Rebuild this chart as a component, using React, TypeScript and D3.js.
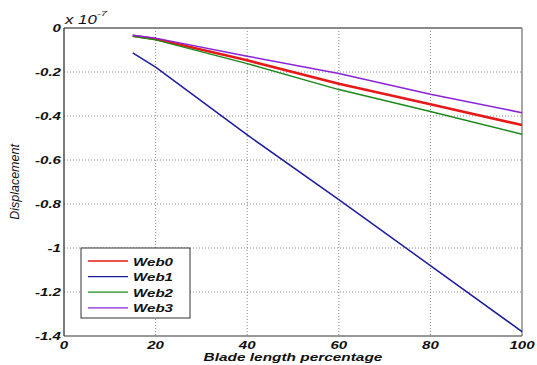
import React from "react";
import * as d3 from "d3";

// blade length (%) at which the displacement was sampled
const bladeLength = [15, 20, 40, 60, 80, 100];

// displacement, in units of 1e-7
const web0 = [-0.035, -0.05, -0.147, -0.253, -0.347, -0.441];
const web1 = [-0.113, -0.178, -0.486, -0.78, -1.08, -1.38];
const web2 = [-0.038, -0.054, -0.162, -0.28, -0.38, -0.483];
const web3 = [-0.033, -0.046, -0.128, -0.207, -0.301, -0.385];

const seriesNames = ["Web0", "Web1", "Web2", "Web3"];
const seriesValues = [web0, web1, web2, web3];
const seriesColors = ["#e61919", "#1c1ca0", "#1b8a1b", "#8a22d8"];
const seriesWidths = [2.6, 1.5, 1.5, 1.5];

const xTicks = [0, 20, 40, 60, 80, 100];
const yTicks = [0, -0.2, -0.4, -0.6, -0.8, -1, -1.2, -1.4];

const W = 537;
const H = 365;
const margin = { top: 28, right: 15, bottom: 29, left: 64 };
const FONT = "'Liberation Sans', Arial, sans-serif";
const SX = 1.4; // labels in the reference are stretched sideways

function Label({ x, y, anchor, size, children, bold = true }: any) {
  return (
    <g transform={`translate(${x},${y}) scale(${SX},1)`}>
      <text
        textAnchor={anchor}
        fontFamily={FONT}
        fontSize={size}
        fontWeight={bold ? "bold" : "normal"}
        fontStyle="italic"
        fill="#111"
      >
        {children}
      </text>
    </g>
  );
}

export default function App() {
  const x = d3
    .scaleLinear()
    .domain([0, 100])
    .range([margin.left, W - margin.right]);
  const y = d3
    .scaleLinear()
    .domain([-1.4, 0])
    .range([H - margin.bottom, margin.top]);

  const line = d3
    .line<number>()
    .x((_, i) => x(bladeLength[i]))
    .y((d) => y(d));

  const [x0, x1] = x.range();
  const [y0, y1] = y.range();

  return (
    <svg
      width={W}
      height={H}
      style={{ position: "absolute", left: 0, top: 0, background: "#fff" }}
    >
      {/* grid */}
      {xTicks.slice(1, -1).map((t) => (
        <line
          key={"gx" + t}
          x1={x(t)}
          x2={x(t)}
          y1={y1}
          y2={y0}
          stroke="#888"
          strokeWidth={1}
          strokeDasharray="1,2"
        />
      ))}
      {yTicks.slice(1, -1).map((t) => (
        <line
          key={"gy" + t}
          x1={x0}
          x2={x1}
          y1={y(t)}
          y2={y(t)}
          stroke="#888"
          strokeWidth={1}
          strokeDasharray="1,2"
        />
      ))}

      {/* box */}
      <line x1={x0} x2={x1} y1={y1} y2={y1} stroke="#8a8a8a" strokeWidth={2} />
      <line x1={x1} x2={x1} y1={y1} y2={y0} stroke="#8a8a8a" strokeWidth={1.5} />
      <line x1={x0} x2={x1} y1={y0} y2={y0} stroke="#333" strokeWidth={1.2} />
      <line x1={x0} x2={x0} y1={y1} y2={y0} stroke="#222" strokeWidth={1.2} />

      {/* series */}
      {seriesValues.map((vals, i) => (
        <path
          key={seriesNames[i]}
          d={line(vals) || ""}
          fill="none"
          stroke={seriesColors[i]}
          strokeWidth={seriesWidths[i]}
        />
      ))}

      {/* tick labels */}
      {yTicks.map((t) => (
        <Label key={"ly" + t} x={x0 - 3} y={y(t) + 4} anchor="end" size={10.8}>
          {t === 0 ? "0" : d3.format(".1~f")(t).replace("−", "-")}
        </Label>
      ))}
      {xTicks.map((t) => (
        <Label key={"lx" + t} x={x(t)} y={y0 + 13} anchor="middle" size={10.8}>
          {String(t)}
        </Label>
      ))}

      {/* exponent */}
      <Label x={x0 + 1} y={y1 - 4} anchor="start" size={12} bold={false}>
        x 10
      </Label>
      <Label x={x0 + 33} y={y1 - 12} anchor="start" size={8} bold={false}>
        -7
      </Label>

      {/* axis titles */}
      <Label x={(x0 + x1) / 2} y={H - 4} anchor="middle" size={11}>
        Blade length percentage
      </Label>
      <text
        transform={`translate(19,${(y0 + y1) / 2}) rotate(-90)`}
        textAnchor="middle"
        fontFamily={FONT}
        fontSize={12.5}
        fontStyle="italic"
        fill="#111"
      >
        Displacement
      </text>

      {/* legend */}
      <g transform="translate(81,248)">
        <rect width={109} height={70} fill="#fff" stroke="#333" strokeWidth={1} />
        {seriesNames.map((name, i) => (
          <g key={name} transform={`translate(0,${13 + i * 15.6})`}>
            <line x1={7} x2={47} stroke={seriesColors[i]} strokeWidth={1.3} />
            <Label x={52} y={4.5} anchor="start" size={10.8}>
              {name}
            </Label>
          </g>
        ))}
      </g>
    </svg>
  );
}
